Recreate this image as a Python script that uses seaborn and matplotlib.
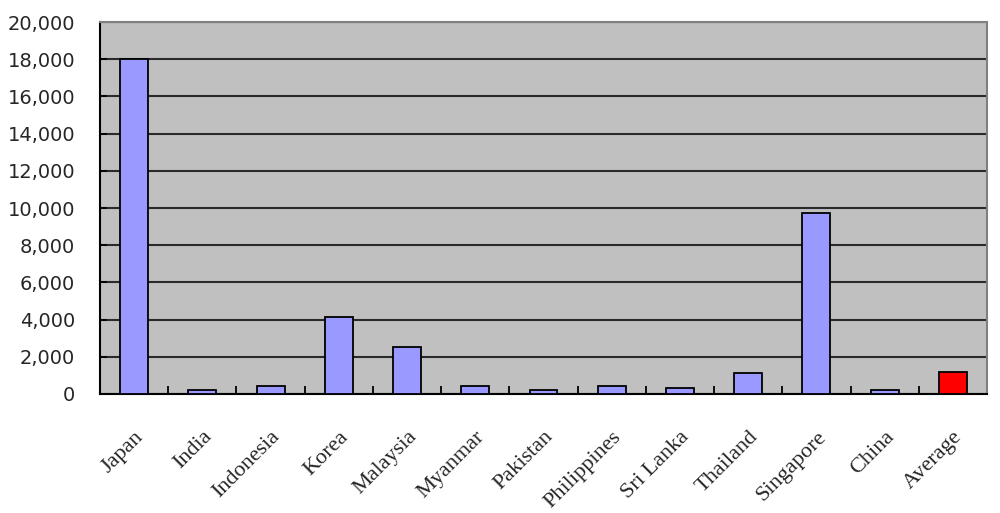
import matplotlib
matplotlib.use("Agg")
import matplotlib.pyplot as plt
import seaborn as sns
import pandas as pd
import numpy as np
from matplotlib.ticker import FuncFormatter, MultipleLocator

countries = ["Japan", "India", "Indonesia", "Korea", "Malaysia", "Myanmar",
             "Pakistan", "Philippines", "Sri Lanka", "Thailand", "Singapore",
             "China", "Average"]
values = [18000, 220, 450, 4150, 2500, 430, 220, 450, 330, 1110, 9730, 220, 1180]
bar_colors = ["#9999FF"] * 12 + ["#FF0000"]

sns.set_theme(style="white")
df = pd.DataFrame({"country": countries, "value": values})

fig = plt.figure(figsize=(10, 5.13), dpi=100)
ax = fig.add_axes([0.100, 0.232, 0.887, 0.725])

sns.barplot(data=df, x="country", y="value", hue="country", palette=bar_colors,
            legend=False, width=0.41, edgecolor="black", linewidth=1.3,
            saturation=1, ax=ax, zorder=3)

ax.set_facecolor("#C0C0C0")
ax.set_ylim(0, 20000)
ax.set_xlim(-0.5, len(countries) - 0.5)
ax.yaxis.set_major_locator(MultipleLocator(2000))
ax.yaxis.set_major_formatter(FuncFormatter(lambda v, p: f"{int(v):,}"))
ax.grid(axis="y", color="#2a2a2a", linewidth=1.5, zorder=1)
ax.set_axisbelow(True)
ax.set_xlabel("")
ax.set_ylabel("")

for s in ["top", "right"]:
    ax.spines[s].set_color("#808080")
    ax.spines[s].set_linewidth(1.5)
for s in ["left", "bottom"]:
    ax.spines[s].set_color("black")
    ax.spines[s].set_linewidth(1.5)

ax.tick_params(axis="y", direction="in", length=5, width=1.3, color="black",
               left=True, pad=18, labelsize=14)
for t in ax.get_yticklabels():
    t.set_fontfamily("DejaVu Sans")

ax.set_xticks(np.arange(len(countries)))
ax.set_xticklabels(countries, rotation=45, ha="right", rotation_mode="anchor",
                   fontsize=16, fontfamily="Liberation Serif")
ax.tick_params(axis="x", which="major", length=0, pad=24)
ax.set_xticks(np.arange(len(countries) - 1) + 0.5, minor=True)
ax.tick_params(axis="x", which="minor", direction="in", length=6, width=1.3,
               color="black", bottom=True)

fig.savefig("out.png", dpi=100, facecolor="white")
